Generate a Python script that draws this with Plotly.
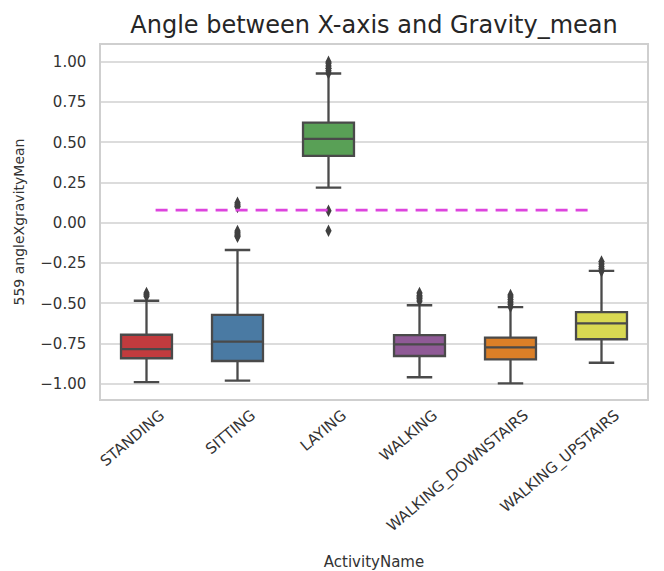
import plotly.graph_objects as go

categories = ["STANDING", "SITTING", "LAYING", "WALKING", "WALKING_DOWNSTAIRS", "WALKING_UPSTAIRS"]
q1 = [-0.840, -0.857, 0.416, -0.826, -0.847, -0.722]
median = [-0.783, -0.737, 0.522, -0.754, -0.772, -0.623]
q3 = [-0.694, -0.571, 0.623, -0.696, -0.712, -0.553]
lowerfence = [-0.988, -0.979, 0.219, -0.958, -0.996, -0.868]
upperfence = [-0.483, -0.168, 0.928, -0.511, -0.522, -0.298]
outliers = {
    "STANDING": [-0.435, -0.445, -0.455],
    "SITTING": [0.125, 0.115, 0.105, 0.10, -0.05, -0.06, -0.07, -0.08, -0.085],
    "LAYING": [1.0, 0.99, 0.975, 0.96, 0.945, 0.93, 0.076, -0.048],
    "WALKING": [-0.435, -0.45, -0.46, -0.47, -0.485],
    "WALKING_DOWNSTAIRS": [-0.447, -0.46, -0.475, -0.49, -0.505, -0.52],
    "WALKING_UPSTAIRS": [-0.24, -0.255, -0.27, -0.285, -0.30],
}
colors = ["#c23b3e", "#4a7aa3", "#59a056", "#8f5a96", "#db7f27", "#d9d952"]
threshold = 0.08

fig = go.Figure()
for i, c in enumerate(categories):
    fig.add_trace(go.Box(
        x=[c], q1=[q1[i]], median=[median[i]], q3=[q3[i]],
        lowerfence=[lowerfence[i]], upperfence=[upperfence[i]],
        fillcolor=colors[i], line=dict(color="#4a4a4a", width=2.3),
        whiskerwidth=0.5, boxpoints=False, showlegend=False,
    ))
for c in categories:
    fig.add_trace(go.Scatter(
        x=[c] * len(outliers[c]), y=outliers[c], mode="markers",
        marker=dict(symbol="diamond-tall", size=9, color="#404040",
                    line=dict(width=0)),
        showlegend=False,
    ))

fig.add_shape(type="line", xref="x domain", yref="y", x0=0.1, x1=0.9,
              y0=threshold, y1=threshold,
              line=dict(color="#dd44dd", width=2.7, dash="12px,8px"))

fig.update_layout(
    width=656, height=563,
    margin=dict(l=93, r=17, t=37, b=172),
    paper_bgcolor="white", plot_bgcolor="white",
    boxgap=0.2, boxmode="overlay",
    font=dict(family="DejaVu Sans", color="#333333"),
    title=dict(text="Angle between X-axis and Gravity_mean", x=0.5, xref="paper",
               xanchor="center", y=0.97, yref="container", yanchor="middle",
               font=dict(size=24, color="#262626")),
)
fig.update_xaxes(
    type="category", categoryorder="array", categoryarray=categories,
    tickangle=-40, tickfont=dict(size=15), showgrid=False, automargin=False,
    showline=True, mirror=True, linecolor="#cfcfcf", linewidth=1.5,
    title=dict(text="ActivityName", font=dict(size=15), standoff=24),
    ticklabelshift=14,
)
fig.update_yaxes(
    range=[-1.093, 1.105], tickvals=[-1, -0.75, -0.5, -0.25, 0, 0.25, 0.5, 0.75, 1],
    tickformat=".2f", tickfont=dict(size=15), showgrid=True, gridcolor="#dcdcdc",
    gridwidth=1.5, zeroline=False, showline=True, mirror=True, automargin=False,
    linecolor="#cfcfcf", linewidth=1.5, ticklabelstandoff=10,
    title=dict(text="559 angleXgravityMean", font=dict(size=14), standoff=12),
)
fig.write_html("out.html")
